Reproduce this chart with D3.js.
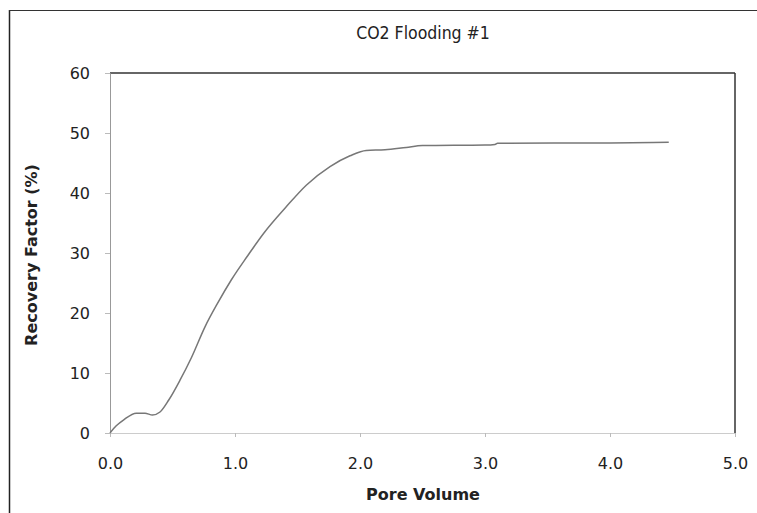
<!DOCTYPE html>
<html>
<head>
<meta charset="utf-8">
<script src="https://cdn.jsdelivr.net/npm/d3@7"></script>
<style>
  body { margin: 0; background: #fff; }
  svg { display: block; }
</style>
</head>
<body>
<svg id="chart" width="757" height="513"></svg>
<script>
const poreVolume = [0, 0.05, 0.11, 0.21, 0.28, 0.34, 0.40, 0.47, 0.56, 0.65, 0.76, 0.86, 0.97, 1.10, 1.23, 1.41, 1.57, 1.76, 1.92, 2.05, 2.20, 2.37, 2.50, 3.00, 3.08, 3.10, 4.00, 4.47];
const recovery   = [0, 1.2, 2.2, 3.3, 3.3, 3.0, 3.5, 5.5, 8.8, 12.5, 17.7, 21.6, 25.5, 29.5, 33.3, 37.7, 41.3, 44.4, 46.2, 47.1, 47.2, 47.6, 47.9, 48.0, 48.1, 48.3, 48.35, 48.45];
const xTicks = [0, 1, 2, 3, 4, 5];
const yTicks = [0, 10, 20, 30, 40, 50, 60];
const titleText = "CO2 Flooding #1";
const xTitle = "Pore Volume";
const yTitle = "Recovery Factor (%)";

const svg = d3.select("#chart");
const pLeft = 110, pRight = 735, pTop = 73, pBottom = 433;

const x = d3.scaleLinear().domain([0, 5]).range([pLeft, pRight]);
const y = d3.scaleLinear().domain([0, 60]).range([pBottom, pTop]);

// outer frame (partial, as in the scan)
svg.append("line").attr("x1", 9.5).attr("x2", 9.5).attr("y1", 10).attr("y2", 513)
  .attr("stroke", "#222").attr("stroke-width", 1.5);
svg.append("line").attr("x1", 9).attr("x2", 757).attr("y1", 10.5).attr("y2", 10.5)
  .attr("stroke", "#333").attr("stroke-width", 1.2);

// plot frame: top & right dark
svg.append("line").attr("x1", pLeft).attr("x2", pRight).attr("y1", pTop).attr("y2", pTop)
  .attr("stroke", "#333").attr("stroke-width", 1.5);
svg.append("line").attr("x1", pRight).attr("x2", pRight).attr("y1", pTop).attr("y2", pBottom)
  .attr("stroke", "#333").attr("stroke-width", 1.5);

// y axis
const yAxis = svg.append("g").attr("transform", `translate(${pLeft},0)`)
  .call(d3.axisLeft(y).tickValues(yTicks).tickSize(5).tickPadding(15).tickFormat(d3.format("d")));
yAxis.select(".domain").attr("stroke", "#999");
yAxis.selectAll(".tick line").attr("stroke", "#bbb");
yAxis.selectAll("text").attr("font-family", "DejaVu Sans, Verdana, sans-serif")
  .attr("font-size", 16).attr("fill", "#222");

// x axis
const xAxis = svg.append("g").attr("transform", `translate(0,${pBottom})`)
  .call(d3.axisBottom(x).tickValues(xTicks).tickSize(4).tickPadding(21).tickFormat(d3.format(".1f")));
xAxis.select(".domain").attr("stroke", "#ccc");
xAxis.selectAll(".tick line").attr("stroke", "#bbb");
xAxis.selectAll("text").attr("font-family", "DejaVu Sans, Verdana, sans-serif")
  .attr("font-size", 16).attr("fill", "#222");

// data line
const data = poreVolume.map((v, i) => [v, recovery[i]]);
svg.append("path").datum(data)
  .attr("fill", "none").attr("stroke", "#777").attr("stroke-width", 1.5)
  .attr("d", d3.line().x(d => x(d[0])).y(d => y(d[1])).curve(d3.curveMonotoneX));

// titles
svg.append("text").attr("x", 423).attr("y", 39).attr("text-anchor", "middle")
  .attr("font-family", "DejaVu Sans Condensed, DejaVu Sans, sans-serif")
  .attr("font-size", 17.5).attr("fill", "#222").text(titleText);
svg.append("text").attr("x", 423).attr("y", 500).attr("text-anchor", "middle")
  .attr("font-family", "DejaVu Sans, Verdana, sans-serif").attr("font-weight", "bold")
  .attr("font-size", 16).attr("fill", "#222").text(xTitle);
svg.append("text").attr("transform", "translate(37,255) rotate(-90)").attr("text-anchor", "middle")
  .attr("font-family", "DejaVu Sans, Verdana, sans-serif").attr("font-weight", "bold")
  .attr("font-size", 16).attr("fill", "#222").text(yTitle);
</script>
</body>
</html>
